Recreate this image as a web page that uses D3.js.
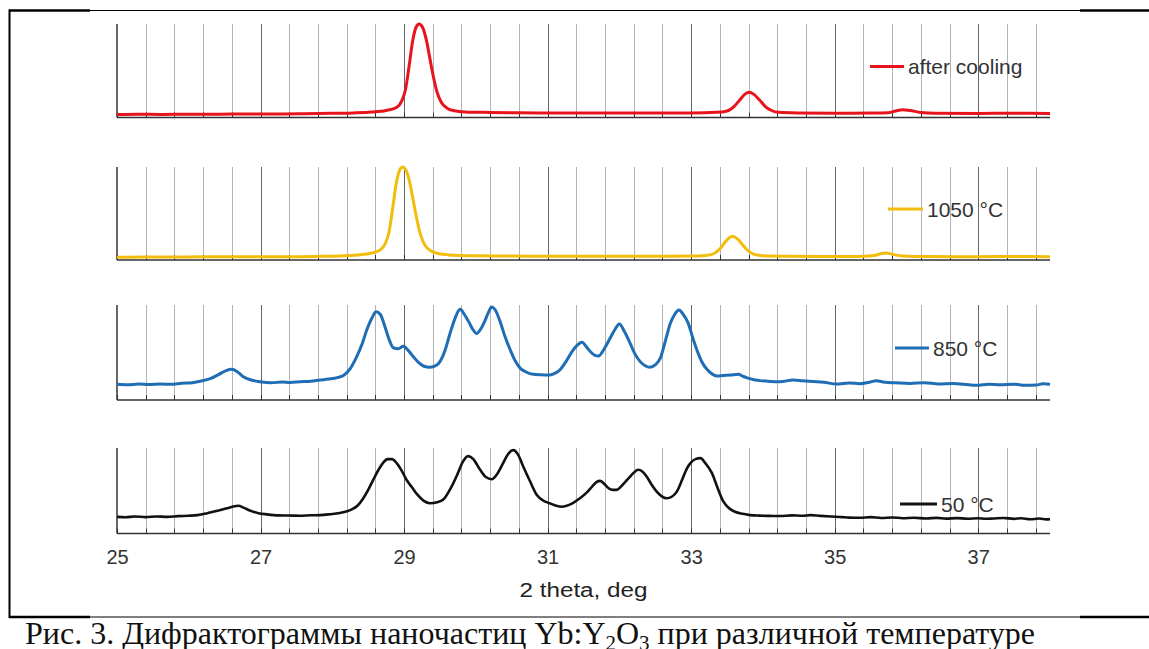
<!DOCTYPE html>
<html>
<head>
<meta charset="utf-8">
<title>XRD Yb:Y2O3</title>
<style>
body { margin: 0; background: #fff; }
svg { display: block; }
.tick text { font-family: "Liberation Sans", Arial, sans-serif; fill: #333; }
</style>
</head>
<body>
<script src="https://cdn.jsdelivr.net/npm/d3@7"></script>
<script>

// 2theta (deg), intensity (0..100 of the panel height)
const afterCooling = [[25.0,3.2],[25.3,3.5],[25.6,3.3],[26.0,3.6],[26.4,3.5],[26.8,3.8],[27.2,3.7],[27.6,4.0],[28.0,4.5],[28.3,4.9],[28.55,5.8],[28.75,7.5],[28.9,11],[28.97,18],[29.02,30],[29.07,55],[29.12,82],[29.17,97],[29.21,100],[29.26,96],[29.31,83],[29.36,63],[29.41,43],[29.46,27],[29.52,16],[29.6,10],[29.7,7.3],[29.85,6],[30.2,5.4],[30.6,5.0],[31.0,4.9],[31.5,4.7],[32.0,4.9],[32.5,4.8],[33.0,4.9],[33.35,5.5],[33.5,7],[33.6,12],[33.68,19],[33.75,25],[33.81,27],[33.87,25],[33.95,19],[34.03,12],[34.12,7.5],[34.22,5.5],[34.5,4.9],[35.0,4.6],[35.5,4.7],[35.75,5.2],[35.85,7],[35.95,8.4],[36.05,7.5],[36.2,5.4],[36.4,4.6],[37.0,4.4],[37.5,4.5],[38.0,4.3]];

const temp1050 = [[25.0,3.0],[25.4,3.3],[25.8,3.2],[26.2,3.5],[26.6,3.4],[27.0,3.6],[27.4,3.6],[27.8,3.9],[28.1,4.3],[28.35,5.4],[28.55,7.5],[28.67,11],[28.74,18],[28.79,30],[28.84,55],[28.89,82],[28.94,97],[28.98,100],[29.03,96],[29.08,83],[29.13,63],[29.18,43],[29.23,27],[29.29,16],[29.37,10],[29.47,7],[29.62,5.5],[30.0,4.5],[30.5,4.2],[31.0,4.0],[31.5,4.1],[32.0,4.0],[32.5,4.1],[33.0,4.2],[33.2,4.8],[33.32,7],[33.4,12],[33.47,19],[33.53,24],[33.58,25.5],[33.64,23],[33.71,17],[33.79,10],[33.88,6],[34.0,4.6],[34.4,4.0],[35.0,3.8],[35.4,3.9],[35.55,4.8],[35.65,7],[35.72,7.6],[35.8,6.2],[35.95,4.3],[36.3,3.7],[37.0,3.6],[37.5,3.8],[38.0,3.6]];

const temp850 = [[25.0,16.5],[25.15,16.0],[25.3,16.8],[25.45,16.2],[25.6,16.9],[25.75,16.5],[25.9,17.6],[26.05,18.2],[26.16,19.8],[26.3,22.5],[26.42,27],[26.52,31],[26.6,32.3],[26.68,29.5],[26.76,24.5],[26.87,21],[26.99,19.3],[27.15,18.2],[27.3,18.9],[27.41,18.4],[27.55,19.2],[27.7,19.8],[27.83,21],[27.95,22],[28.07,23.5],[28.16,26],[28.25,33],[28.34,45.6],[28.42,60],[28.48,73.7],[28.55,86],[28.61,93],[28.67,90],[28.73,78],[28.79,64],[28.85,55],[28.92,54],[28.99,56.5],[29.06,52],[29.13,45.6],[29.2,39.5],[29.27,35.8],[29.36,34.4],[29.45,36.5],[29.5,40.4],[29.57,52],[29.64,70],[29.71,86],[29.78,95.4],[29.84,90],[29.9,82.5],[29.96,74],[30.01,70],[30.07,75],[30.13,84],[30.18,93],[30.22,98],[30.27,95],[30.34,82],[30.41,66],[30.48,52.6],[30.55,41],[30.62,33.3],[30.7,29.5],[30.8,27],[30.9,26.5],[31.03,26.3],[31.1,28],[31.17,31.6],[31.26,41],[31.34,50.9],[31.41,57.5],[31.48,60.7],[31.54,56],[31.6,50.5],[31.66,47],[31.71,46.3],[31.79,54],[31.87,65],[31.94,74.5],[32.0,80],[32.07,72],[32.15,59.6],[32.22,48],[32.29,40.4],[32.36,36],[32.42,34.4],[32.5,37],[32.57,44],[32.64,62],[32.71,80.7],[32.77,90],[32.83,94.7],[32.89,90],[32.96,80.7],[33.02,66],[33.08,52.6],[33.15,40],[33.22,32.3],[33.29,27.5],[33.36,25.3],[33.45,25.8],[33.55,26.2],[33.66,27],[33.72,25],[33.77,23.5],[33.86,21.5],[33.96,20.4],[34.1,19.6],[34.24,19.3],[34.42,21],[34.55,20.2],[34.7,19.4],[34.85,18.6],[35.03,16.8],[35.2,17.9],[35.35,17.2],[35.5,19],[35.58,20.3],[35.7,18.6],[35.85,18.1],[36.05,17.5],[36.25,18.2],[36.45,16.9],[36.65,17.4],[36.8,16.6],[36.98,15.4],[37.15,16.6],[37.3,16.0],[37.5,16.7],[37.65,15.6],[37.81,15.8],[37.9,17.0],[38.0,16.5]];

const temp50 = [[25.0,19.5],[25.12,19.0],[25.25,19.8],[25.4,19.2],[25.55,19.9],[25.7,19.5],[25.85,20.3],[26.0,20.8],[26.12,21.5],[26.25,23.5],[26.4,26.5],[26.53,29.4],[26.62,31.5],[26.69,32.5],[26.77,30],[26.86,26.6],[26.97,23.8],[27.09,22.4],[27.25,21.2],[27.4,21.0],[27.55,20.7],[27.7,21.3],[27.83,21.5],[27.97,22.6],[28.1,24],[28.25,27.4],[28.35,32.5],[28.43,41],[28.5,51],[28.57,62.7],[28.64,74],[28.71,83],[28.77,87],[28.83,87],[28.9,82],[28.96,74.5],[29.04,62],[29.11,54],[29.18,46],[29.27,38.5],[29.36,35.3],[29.46,36.5],[29.55,40],[29.65,53],[29.74,68.6],[29.82,84],[29.89,90.5],[29.96,87.5],[30.06,74.5],[30.14,66],[30.22,63.5],[30.3,70],[30.38,82.3],[30.45,93],[30.52,97.5],[30.59,92],[30.66,78.4],[30.75,62],[30.85,45],[30.94,38.5],[31.03,35.3],[31.12,32.5],[31.2,31.3],[31.3,33.5],[31.45,41.2],[31.54,47.5],[31.62,54.9],[31.68,60],[31.73,61.5],[31.79,58],[31.85,52.9],[31.91,51],[31.96,51],[32.04,56.5],[32.13,64.7],[32.2,71],[32.26,74.5],[32.32,72.5],[32.38,66.6],[32.45,57],[32.52,49],[32.59,43.5],[32.66,41.2],[32.73,43],[32.8,49],[32.88,64],[32.94,76],[32.99,82.3],[33.06,87],[33.13,88.2],[33.2,82],[33.29,70.6],[33.37,53],[33.45,37.2],[33.53,29.5],[33.61,25.4],[33.72,23],[33.82,21.5],[33.95,20.9],[34.1,20.6],[34.24,20.4],[34.4,21.2],[34.55,20.8],[34.66,21.5],[34.8,20.6],[34.95,19.8],[35.1,19.2],[35.2,18.6],[35.35,18.4],[35.5,19.1],[35.65,18.2],[35.8,18.8],[35.95,17.9],[36.1,18.4],[36.28,17.6],[36.42,18.3],[36.55,17.4],[36.7,18.0],[36.85,17.3],[37.0,17.9],[37.1,17.2],[37.21,17.6],[37.35,18.2],[37.5,17.1],[37.6,17.8],[37.72,16.6],[37.85,17.5],[37.95,16.5],[38.0,16.8]];

const seriesNames = ["after cooling", "1050 °C", "850 °C", "50 °C"];
const seriesColors = ["#e8141c", "#f2bd0c", "#1f6db4", "#111111"];
const xTickLabels = [25, 27, 29, 31, 33, 35, 37];
const xTitle = "2 theta, deg";
const caption = "Рис. 3. Дифрактограммы наночастиц Yb:Y";

var width = 1149, height = 649;

var svg = d3.select("body").append("svg")
    .attr("width", width)
    .attr("height", height);

// table cell borders
svg.append("line").attr("x1", 9).attr("x2", 1149).attr("y1", 10.5).attr("y2", 10.5)
    .style("stroke", "#000").style("stroke-width", 1);
svg.append("line").attr("x1", 9).attr("x2", 90).attr("y1", 10.5).attr("y2", 10.5)
    .style("stroke", "#000").style("stroke-width", 2.5);
svg.append("line").attr("x1", 1080).attr("x2", 1149).attr("y1", 10.5).attr("y2", 10.5)
    .style("stroke", "#000").style("stroke-width", 2.5);
svg.append("line").attr("x1", 9.5).attr("x2", 9.5).attr("y1", 9.5).attr("y2", 618)
    .style("stroke", "#000").style("stroke-width", 2);
svg.append("line").attr("x1", 9).attr("x2", 1149).attr("y1", 617).attr("y2", 617)
    .style("stroke", "#000").style("stroke-width", 1);
svg.append("line").attr("x1", 9).attr("x2", 90).attr("y1", 617).attr("y2", 617)
    .style("stroke", "#000").style("stroke-width", 2.5);
svg.append("line").attr("x1", 1080).attr("x2", 1149).attr("y1", 617).attr("y2", 617)
    .style("stroke", "#000").style("stroke-width", 2.5);

var x = d3.scaleLinear().domain([25, 38]).range([117, 1050]);
var gridVals = d3.range(0, 33).map(function(i) { return +(25 + i * 0.4).toFixed(1); });

// panel frames (top of grid, baseline)
var panels = [
  {data: afterCooling, top: 24, bottom: 117.5, legendY: 66.5, legendX: 870, legendLen: 34, lw: 3},
  {data: temp1050,     top: 167, bottom: 260,  legendY: 209,  legendX: 888, legendLen: 35, lw: 3},
  {data: temp850,      top: 305, bottom: 400,  legendY: 348,  legendX: 895, legendLen: 34, lw: 3},
  {data: temp50,       top: 448, bottom: 533.5, legendY: 504, legendX: 900, legendLen: 37, lw: 2.6}
];

panels.forEach(function(p, i) {
  var y = d3.scaleLinear().domain([0, 100]).range([p.bottom, p.top]);
  var g = svg.append("g");

  g.selectAll("line.grid")
    .data(gridVals.filter(function(v) { return v > 25; }))
    .enter().append("line")
    .attr("class", "grid")
    .attr("x1", function(d) { return Math.round(x(d)) + 0.5; })
    .attr("x2", function(d) { return Math.round(x(d)) + 0.5; })
    .attr("y1", p.top)
    .attr("y2", p.bottom)
    .style("stroke", function(d) { return xTickLabels.indexOf(d) >= 0 ? "#666" : "#b4b4b4"; })
    .style("stroke-width", 1);

  // small inward ticks
  g.selectAll("line.tk")
    .data(gridVals)
    .enter().append("line")
    .attr("class", "tk")
    .attr("x1", function(d) { return Math.round(x(d)) + 0.5; })
    .attr("x2", function(d) { return Math.round(x(d)) + 0.5; })
    .attr("y1", p.bottom - 5)
    .attr("y2", p.bottom)
    .style("stroke", "#333")
    .style("stroke-width", 1);

  // axes
  g.append("line")
    .attr("x1", x(25)).attr("x2", x(38))
    .attr("y1", p.bottom).attr("y2", p.bottom)
    .style("stroke", "#333").style("stroke-width", 1.5);
  g.append("line")
    .attr("x1", x(25)).attr("x2", x(25))
    .attr("y1", p.top).attr("y2", p.bottom)
    .style("stroke", "#333").style("stroke-width", 1.5);

  var line = d3.line()
    .x(function(d) { return x(d[0]); })
    .y(function(d) { return y(d[1]); })
    .curve(d3.curveMonotoneX);

  g.append("path")
    .datum(p.data)
    .attr("d", line)
    .style("fill", "none")
    .style("stroke", seriesColors[i])
    .style("stroke-width", p.lw)
    .style("stroke-linejoin", "round");

  // legend
  g.append("line")
    .attr("x1", p.legendX).attr("x2", p.legendX + p.legendLen)
    .attr("y1", p.legendY).attr("y2", p.legendY)
    .style("stroke", seriesColors[i]).style("stroke-width", 3);
  g.append("text")
    .attr("x", p.legendX + p.legendLen + 4)
    .attr("y", p.legendY + 7.5)
    .style("font-family", "'Liberation Sans', Arial, sans-serif")
    .style("font-size", "21px")
    .style("fill", "#333")
    .text(seriesNames[i]);
});

// tick labels under the bottom panel
var axis = d3.axisBottom(x).tickValues(xTickLabels).tickSize(0).tickPadding(16)
    .tickFormat(d3.format("d"));
var ax = svg.append("g").attr("transform", "translate(0,533.5)").call(axis);
ax.select(".domain").remove();
ax.selectAll("text").style("font-size", "20px");

svg.append("text")
  .attr("x", (x(25) + x(38)) / 2)
  .attr("y", 597)
  .attr("text-anchor", "middle")
  .attr("textLength", 128)
  .attr("lengthAdjust", "spacingAndGlyphs")
  .style("font-family", "'Liberation Sans', Arial, sans-serif")
  .style("font-size", "20px")
  .style("fill", "#222")
  .text(xTitle);

// caption with sub-indices
var cap = svg.append("text")
  .attr("x", 25)
  .attr("y", 644)
  .style("font-family", "'Liberation Serif', 'Times New Roman', serif")
  .style("font-size", "32px")
  .style("fill", "#111");
cap.append("tspan").text(caption);
cap.append("tspan").attr("dy", 6).style("font-size", "21px").text("2");
cap.append("tspan").attr("dy", -6).text("O");
cap.append("tspan").attr("dy", 6).style("font-size", "21px").text("3");
cap.append("tspan").attr("dy", -6).text(" при различной температуре");

</script>
</body>
</html>
